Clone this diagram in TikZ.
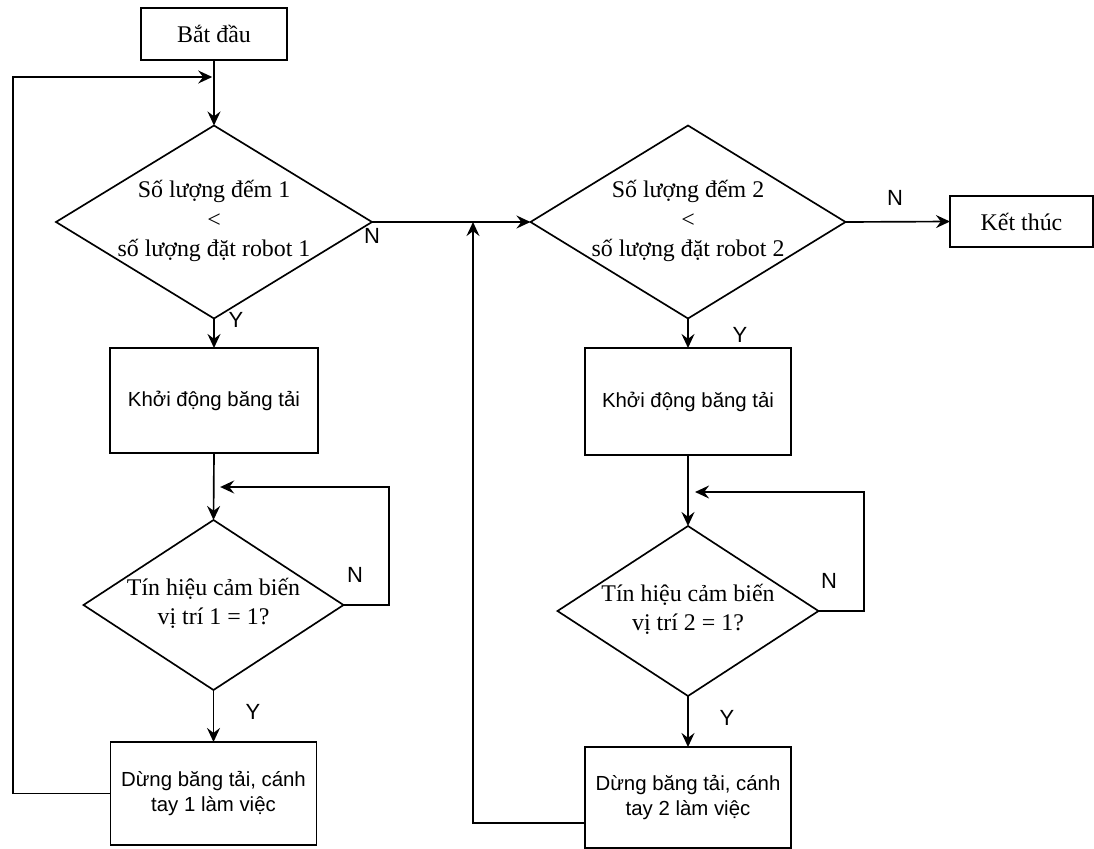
\documentclass[tikz,border=0pt]{standalone}
\usepackage{fontspec}
\setmainfont{Liberation Serif}
\newfontfamily\arialf{Liberation Sans}
\usetikzlibrary{shapes.geometric,arrows.meta,calc}
\newcommand\dtext[1]{\makebox[0pt]{\smash{\raisebox{-3.2pt}{\begin{tabular}{@{}c@{}}#1\end{tabular}}}}}
\begin{document}
\begin{tikzpicture}[x=0.02cm,y=-0.02cm,
  serif/.style={font=\fontsize{13.6}{16.8}\selectfont},
  sans/.style={font=\arialf\fontsize{11.6}{14.2}\selectfont},
  term/.style={draw, line width=0.95pt, inner sep=0pt, outer sep=0pt, serif},
  proc/.style={draw, line width=0.95pt, inner sep=0pt, outer sep=0pt, align=center, sans},
  dia/.style={draw, shape=diamond, line width=0.95pt, inner sep=0pt, outer sep=0pt, serif},
  conn/.style={line width=0.95pt},
  arr/.style={conn, -{Stealth[length=8pt,width=7.4pt,inset=2.8pt]}},
  lab/.style={font=\arialf\fontsize{12.5}{14}\selectfont, inner sep=0pt}]
\useasboundingbox (0,0) rectangle (1094,848);

% nodes
\node[term, minimum width=146*0.02cm, minimum height=52*0.02cm] (st) at (214,34) {Bắt đầu};
\node[dia, minimum width=316*0.02cm, minimum height=193*0.02cm] (d1) at (214,222)
  {\dtext{Số lượng đếm 1\\<\\số lượng đặt robot 1}};
\node[dia, minimum width=315*0.02cm, minimum height=193*0.02cm] (d2) at (688,222)
  {\dtext{Số lượng đếm 2\\<\\số lượng đặt robot 2}};
\node[term, minimum width=143*0.02cm, minimum height=51*0.02cm] (en) at (1021.5,221.5) {Kết thúc};
\node[proc, minimum width=208*0.02cm, minimum height=105*0.02cm] (b1) at (214,400.5) {Khởi động băng tải};
\node[proc, minimum width=206*0.02cm, minimum height=107*0.02cm] (b2) at (688,401.5) {Khởi động băng tải};
\node[dia, minimum width=260*0.02cm, minimum height=170*0.02cm] (d3) at (213.5,605)
  {\dtext{Tín hiệu cảm biến\\vị trí 1 = 1?}};
\node[dia, minimum width=261*0.02cm, minimum height=170*0.02cm] (d4) at (688,611)
  {\dtext{Tín hiệu cảm biến\\vị trí 2 = 1?}};
\node[proc, minimum width=206*0.02cm, minimum height=103*0.02cm] (b3) at (213.5,793.5) {Dừng băng tải, cánh\\tay 1 làm việc};
\node[proc, minimum width=206*0.02cm, minimum height=101*0.02cm] (b4) at (688,797.5) {Dừng băng tải, cánh\\tay 2 làm việc};

% junction points
\coordinate (m1) at (214,77);
\coordinate (m2) at (473,222);
\coordinate (m3) at (214,487);
\coordinate (m4) at (688,492);

% connectors
\draw[arr] (st) -- (d1);
\draw[arr, shorten >=1pt] (b3.west) -| (13,77) -- (m1);
\draw[arr] (d1.east) -- (d2.west);
\draw[arr] (473,823 -| b4.west) -| (m2);
\draw[arr] (d2.east) -- (en.west);
\draw[arr] (d1.south) -- (b1.north);
\draw[arr] (b1.south) -- (d3.north);
\draw[arr, shorten >=3.5pt] (d3.east) -- (389,605) |- (m3);
\draw[arr] (d3.south) -- (b3.north);
\draw[arr] (d2.south) -- (b2.north);
\draw[arr] (b2.south) -- (d4.north);
\draw[arr, shorten >=4pt] (d4.east) -- (864,611) |- (m4);
\draw[arr] (d4.south) -- (b4.north);

% labels
\node[lab] (n1) at (372,236) {N};
\node[lab] (n2) at (895,198) {N};
\node[lab] (n3) at (355,575) {N};
\node[lab] (n4) at (829,581) {N};
\node[lab] (y1) at (236,320) {Y};
\node[lab] (y2) at (740,335) {Y};
\node[lab] (y3) at (253,712) {Y};
\node[lab] (y4) at (727,718) {Y};
\end{tikzpicture}
\end{document}
